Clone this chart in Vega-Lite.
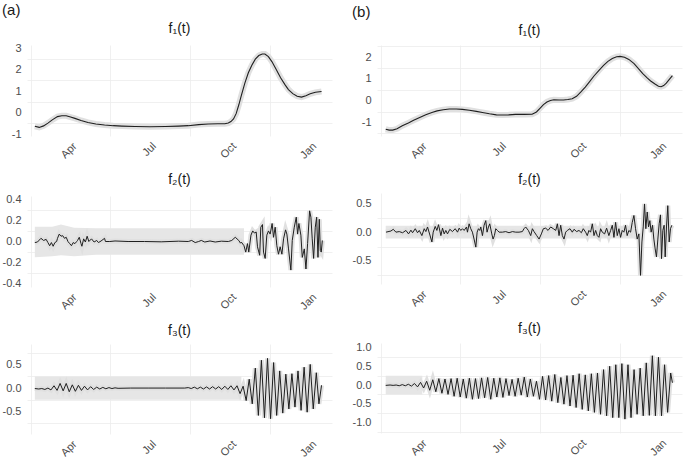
{
"$schema": "https://vega.github.io/schema/vega-lite/v6.json",
"background": "white",
"padding": {"left": 2, "top": 3, "right": 0, "bottom": 0},
"config": {
  "font": "Liberation Sans",
  "view": {"stroke": null},
  "axis": {"domain": false, "ticks": false, "labelColor": "#4d4d4d", "labelFontSize": 11, "gridColor": "#e2e2e2", "gridWidth": 1, "title": null},
  "title": {"fontSize": 14, "fontWeight": "normal", "color": "#1a1a1a", "offset": 6}
},
"datasets": {
  "a1": [{"t":50,"y":-0.64},{"t":55,"y":-0.69},{"t":60,"y":-0.62},{"t":65,"y":-0.49},{"t":70,"y":-0.34},{"t":76,"y":-0.19},{"t":81,"y":-0.15},{"t":86,"y":-0.15},{"t":91,"y":-0.21},{"t":96,"y":-0.27},{"t":103,"y":-0.37},{"t":111,"y":-0.46},{"t":120,"y":-0.53},{"t":130,"y":-0.58},{"t":140,"y":-0.61},{"t":150,"y":-0.63},{"t":165,"y":-0.65},{"t":182,"y":-0.66},{"t":200,"y":-0.65},{"t":215,"y":-0.63},{"t":226,"y":-0.61},{"t":238,"y":-0.56},{"t":249,"y":-0.53},{"t":260,"y":-0.52},{"t":268,"y":-0.52},{"t":272,"y":-0.49},{"t":275,"y":-0.42},{"t":278,"y":-0.3},{"t":281,"y":-0.05},{"t":284,"y":0.35},{"t":287,"y":0.8},{"t":291,"y":1.37},{"t":295,"y":1.85},{"t":299,"y":2.2},{"t":303,"y":2.48},{"t":307,"y":2.65},{"t":311,"y":2.72},{"t":314,"y":2.72},{"t":318,"y":2.6},{"t":322,"y":2.37},{"t":327,"y":2.0},{"t":332,"y":1.62},{"t":337,"y":1.3},{"t":341,"y":1.07},{"t":346,"y":0.88},{"t":351,"y":0.76},{"t":356,"y":0.72},{"t":361,"y":0.78},{"t":366,"y":0.87},{"t":372,"y":0.94},{"t":379,"y":0.98}],
  "b1": [{"t":51,"y":-1.31},{"t":55,"y":-1.35},{"t":59,"y":-1.35},{"t":64,"y":-1.29},{"t":70,"y":-1.15},{"t":77,"y":-1.02},{"t":83,"y":-0.9},{"t":90,"y":-0.77},{"t":97,"y":-0.65},{"t":104,"y":-0.54},{"t":110,"y":-0.47},{"t":117,"y":-0.42},{"t":124,"y":-0.38},{"t":132,"y":-0.38},{"t":139,"y":-0.4},{"t":147,"y":-0.44},{"t":155,"y":-0.49},{"t":162,"y":-0.54},{"t":170,"y":-0.6},{"t":178,"y":-0.65},{"t":185,"y":-0.66},{"t":192,"y":-0.65},{"t":200,"y":-0.63},{"t":210,"y":-0.63},{"t":219,"y":-0.62},{"t":224,"y":-0.52},{"t":228,"y":-0.35},{"t":232,"y":-0.18},{"t":236,"y":-0.06},{"t":240,"y":0.01},{"t":244,"y":0.04},{"t":250,"y":0.03},{"t":255,"y":0.03},{"t":260,"y":0.05},{"t":265,"y":0.09},{"t":270,"y":0.2},{"t":275,"y":0.4},{"t":280,"y":0.62},{"t":285,"y":0.87},{"t":290,"y":1.13},{"t":296,"y":1.4},{"t":301,"y":1.62},{"t":306,"y":1.8},{"t":311,"y":1.93},{"t":316,"y":2.01},{"t":320,"y":2.03},{"t":325,"y":1.99},{"t":330,"y":1.89},{"t":336,"y":1.7},{"t":341,"y":1.47},{"t":346,"y":1.24},{"t":351,"y":1.04},{"t":355,"y":0.9},{"t":360,"y":0.76},{"t":364,"y":0.66},{"t":367,"y":0.64},{"t":370,"y":0.69},{"t":373,"y":0.8},{"t":376,"y":0.95},{"t":380,"y":1.15}],
  "a2": [{"t":50,"y":-0.01},{"t":53,"y":-0.005},{"t":57,"y":0.03},{"t":60,"y":0.01},{"t":63,"y":0.02},{"t":65,"y":-0.01},{"t":67,"y":-0.04},{"t":69,"y":-0.01},{"t":71,"y":-0.045},{"t":73,"y":-0.01},{"t":75,"y":0.0},{"t":76,"y":0.03},{"t":78,"y":0.07},{"t":80,"y":0.05},{"t":82,"y":0.055},{"t":84,"y":0.03},{"t":86,"y":0.04},{"t":88,"y":0.0},{"t":90,"y":-0.02},{"t":92,"y":-0.04},{"t":94,"y":-0.01},{"t":96,"y":-0.02},{"t":98,"y":0.0},{"t":99,"y":0.01},{"t":101,"y":0.04},{"t":103,"y":-0.02},{"t":104,"y":-0.045},{"t":106,"y":0.025},{"t":108,"y":-0.005},{"t":110,"y":0.05},{"t":112,"y":0.0},{"t":115,"y":0.025},{"t":118,"y":-0.005},{"t":121,"y":0.01},{"t":123,"y":-0.01},{"t":126,"y":0.005},{"t":130,"y":0.03},{"t":131,"y":0.0},{"t":136,"y":0.0},{"t":142,"y":0.005},{"t":157,"y":0.0},{"t":176,"y":0.0},{"t":195,"y":-0.003},{"t":215,"y":0.003},{"t":226,"y":0.0},{"t":230,"y":0.01},{"t":234,"y":-0.01},{"t":238,"y":0.0},{"t":241,"y":0.01},{"t":245,"y":-0.005},{"t":251,"y":0.005},{"t":257,"y":-0.005},{"t":264,"y":0.003},{"t":272,"y":0.0},{"t":276,"y":0.01},{"t":280,"y":0.04},{"t":282,"y":0.025},{"t":284,"y":0.01},{"t":286,"y":-0.016},{"t":287,"y":-0.006},{"t":290,"y":-0.04},{"t":292,"y":-0.1},{"t":294,"y":-0.02},{"t":295.5,"y":-0.1},{"t":298,"y":0.06},{"t":300,"y":0.1},{"t":302,"y":0.08},{"t":304,"y":0.09},{"t":305.5,"y":-0.05},{"t":308,"y":-0.13},{"t":309.3,"y":0.135},{"t":311.2,"y":0.16},{"t":312.4,"y":-0.1},{"t":314.3,"y":-0.16},{"t":316.2,"y":0.06},{"t":318.1,"y":0.1},{"t":320,"y":0.07},{"t":322.3,"y":0.17},{"t":323.9,"y":0.04},{"t":325.8,"y":0.135},{"t":327.7,"y":-0.04},{"t":329.6,"y":-0.12},{"t":331.5,"y":-0.05},{"t":333.5,"y":-0.12},{"t":335.4,"y":0.025},{"t":337.7,"y":0.11},{"t":339.2,"y":0.07},{"t":341.1,"y":-0.07},{"t":343.8,"y":-0.27},{"t":345.4,"y":0.01},{"t":347.7,"y":0.135},{"t":350,"y":0.23},{"t":351.5,"y":0.07},{"t":353,"y":0.17},{"t":355.3,"y":0.06},{"t":356.9,"y":-0.15},{"t":359.2,"y":-0.07},{"t":361.1,"y":-0.26},{"t":363,"y":-0.02},{"t":365.3,"y":0.29},{"t":366.8,"y":0.23},{"t":368.3,"y":0.025},{"t":369.9,"y":-0.16},{"t":371.8,"y":0.135},{"t":373.4,"y":0.23},{"t":374.9,"y":-0.15},{"t":376.4,"y":0.21},{"t":377.6,"y":-0.085},{"t":378.7,"y":-0.1},{"t":379.9,"y":0.01}],
  "b2": [{"t":51.3,"y":0.0},{"t":57,"y":0.02},{"t":59.7,"y":0.05},{"t":62.7,"y":0.0},{"t":66.5,"y":0.01},{"t":70.4,"y":-0.01},{"t":74.2,"y":0.03},{"t":77.2,"y":-0.03},{"t":79.9,"y":0.035},{"t":81.8,"y":-0.01},{"t":84.9,"y":0.06},{"t":87.5,"y":-0.01},{"t":89.5,"y":0.03},{"t":92.5,"y":-0.06},{"t":95.2,"y":0.06},{"t":97.1,"y":0.01},{"t":99,"y":0.09},{"t":101.7,"y":-0.05},{"t":104,"y":-0.17},{"t":105.5,"y":0.0},{"t":107.8,"y":0.1},{"t":109.7,"y":0.03},{"t":111.6,"y":0.13},{"t":114.3,"y":-0.06},{"t":116.2,"y":0.07},{"t":118.1,"y":-0.03},{"t":120,"y":0.03},{"t":121.9,"y":-0.03},{"t":124.6,"y":0.05},{"t":127.6,"y":0.01},{"t":130.7,"y":0.06},{"t":133.4,"y":0.0},{"t":135.3,"y":0.07},{"t":137.2,"y":0.03},{"t":139.1,"y":0.06},{"t":141,"y":0.03},{"t":143.7,"y":0.09},{"t":144.8,"y":0.0},{"t":146.7,"y":0.145},{"t":148.6,"y":0.06},{"t":150.5,"y":0.0},{"t":152.4,"y":-0.12},{"t":154.4,"y":-0.26},{"t":155.9,"y":0.0},{"t":157.4,"y":0.06},{"t":158.9,"y":0.03},{"t":160.1,"y":0.09},{"t":162,"y":-0.06},{"t":163.9,"y":0.12},{"t":165.8,"y":0.2},{"t":167.3,"y":0.0},{"t":168.9,"y":0.09},{"t":170.4,"y":0.145},{"t":172.7,"y":-0.03},{"t":174.2,"y":-0.12},{"t":175.7,"y":-0.06},{"t":177.3,"y":0.06},{"t":179.2,"y":0.03},{"t":181.1,"y":0.0},{"t":184.9,"y":0.0},{"t":188.7,"y":0.01},{"t":192.5,"y":-0.01},{"t":196.4,"y":0.01},{"t":200.2,"y":0.0},{"t":204,"y":0.0},{"t":207.8,"y":0.01},{"t":209.7,"y":0.06},{"t":211.6,"y":0.09},{"t":214.7,"y":0.03},{"t":217.4,"y":-0.06},{"t":219.3,"y":0.06},{"t":221.2,"y":0.01},{"t":224.3,"y":-0.06},{"t":227,"y":-0.12},{"t":229.6,"y":-0.03},{"t":231.9,"y":0.06},{"t":234.6,"y":0.07},{"t":237.3,"y":0.03},{"t":240.3,"y":0.09},{"t":243.4,"y":0.06},{"t":246.1,"y":0.03},{"t":248,"y":0.145},{"t":249.9,"y":-0.06},{"t":251.8,"y":0.12},{"t":253.7,"y":-0.06},{"t":255.6,"y":-0.12},{"t":257.5,"y":0.0},{"t":259.4,"y":0.03},{"t":262.5,"y":0.06},{"t":265.1,"y":0.0},{"t":267.1,"y":0.05},{"t":270.1,"y":0.01},{"t":272.8,"y":0.03},{"t":275.5,"y":-0.01},{"t":277.7,"y":0.06},{"t":280.4,"y":0.0},{"t":282.3,"y":-0.06},{"t":284.2,"y":0.03},{"t":286.1,"y":0.0},{"t":288.1,"y":0.145},{"t":290,"y":-0.06},{"t":291.9,"y":0.03},{"t":293.8,"y":-0.06},{"t":295.7,"y":-0.09},{"t":297.6,"y":0.06},{"t":299.5,"y":0.0},{"t":302.2,"y":-0.03},{"t":304.5,"y":0.07},{"t":307.1,"y":-0.06},{"t":309.1,"y":0.03},{"t":311,"y":0.12},{"t":312.9,"y":-0.09},{"t":314.8,"y":0.17},{"t":316.7,"y":-0.06},{"t":318.6,"y":0.06},{"t":320.5,"y":-0.09},{"t":322.4,"y":0.03},{"t":324.3,"y":0.0},{"t":326.2,"y":0.12},{"t":328.1,"y":-0.06},{"t":330,"y":0.03},{"t":332,"y":0.0},{"t":333.9,"y":0.17},{"t":335.8,"y":0.29},{"t":337.7,"y":0.06},{"t":339.6,"y":-0.12},{"t":341.5,"y":-0.03},{"t":343.4,"y":-0.75},{"t":345,"y":-0.17},{"t":346.5,"y":0.09},{"t":348,"y":0.49},{"t":349.5,"y":0.06},{"t":351.1,"y":0.35},{"t":352.6,"y":0.09},{"t":354.1,"y":0.2},{"t":355.6,"y":0.0},{"t":357.2,"y":0.12},{"t":358.7,"y":-0.12},{"t":360.2,"y":-0.29},{"t":361.7,"y":-0.43},{"t":363.3,"y":-0.12},{"t":364.8,"y":0.145},{"t":366.3,"y":0.3},{"t":367.5,"y":-0.46},{"t":369,"y":0.03},{"t":370.5,"y":0.12},{"t":371.7,"y":-0.43},{"t":373.2,"y":0.09},{"t":374.7,"y":0.46},{"t":376.3,"y":-0.17},{"t":377.8,"y":0.06},{"t":379.3,"y":0.12}],
  "a3": [{"t":50,"y":-0.01},{"t":54.5,"y":-0.02},{"t":58,"y":-0.01},{"t":61.5,"y":-0.03},{"t":65,"y":0.0},{"t":68.5,"y":-0.04},{"t":72,"y":0.05},{"t":75.5,"y":-0.05},{"t":79,"y":0.1},{"t":82.5,"y":-0.06},{"t":86,"y":0.1},{"t":89.5,"y":-0.08},{"t":93,"y":0.07},{"t":96.5,"y":-0.07},{"t":100,"y":0.06},{"t":103.5,"y":-0.05},{"t":107,"y":0.04},{"t":110.5,"y":-0.04},{"t":114,"y":0.03},{"t":117.5,"y":-0.03},{"t":121,"y":0.02},{"t":124.5,"y":-0.02},{"t":128,"y":0.015},{"t":131.5,"y":-0.015},{"t":135,"y":0.01},{"t":138.5,"y":-0.01},{"t":142,"y":0.005},{"t":145.5,"y":-0.005},{"t":160,"y":0.0},{"t":180,"y":0.0},{"t":200,"y":0.0},{"t":222,"y":0.0},{"t":226,"y":0.01},{"t":229.5,"y":-0.01},{"t":233,"y":0.02},{"t":236.5,"y":-0.015},{"t":240,"y":0.02},{"t":243.5,"y":-0.02},{"t":247,"y":0.025},{"t":250.5,"y":-0.02},{"t":254,"y":0.03},{"t":257.5,"y":-0.02},{"t":261,"y":0.03},{"t":264.5,"y":-0.03},{"t":268,"y":0.04},{"t":271.5,"y":-0.03},{"t":275,"y":0.05},{"t":278.5,"y":-0.04},{"t":282,"y":0.05},{"t":285.5,"y":-0.12},{"t":289,"y":0.04},{"t":292.5,"y":-0.27},{"t":296,"y":0.19},{"t":299.5,"y":-0.34},{"t":303,"y":0.43},{"t":306.5,"y":-0.59},{"t":310,"y":0.6},{"t":313.5,"y":-0.64},{"t":317,"y":0.64},{"t":320.5,"y":-0.66},{"t":324,"y":0.55},{"t":327.5,"y":-0.59},{"t":331,"y":0.37},{"t":334.5,"y":-0.54},{"t":338,"y":0.3},{"t":341.5,"y":-0.45},{"t":345,"y":0.31},{"t":348.5,"y":-0.41},{"t":352,"y":0.37},{"t":355.5,"y":-0.48},{"t":359,"y":0.45},{"t":362.5,"y":-0.52},{"t":366,"y":0.51},{"t":369.5,"y":-0.45},{"t":373,"y":0.33},{"t":376,"y":-0.34},{"t":379,"y":0.06}],
  "b3": [{"t":51,"y":-0.01},{"t":56,"y":0.0},{"t":59.5,"y":-0.01},{"t":63,"y":0.0},{"t":66.5,"y":-0.02},{"t":70,"y":0.01},{"t":73.5,"y":-0.02},{"t":77,"y":0.02},{"t":80.5,"y":-0.03},{"t":84,"y":0.04},{"t":87.5,"y":-0.05},{"t":91,"y":0.07},{"t":94.5,"y":-0.08},{"t":98,"y":0.1},{"t":101.5,"y":-0.14},{"t":105,"y":0.14},{"t":108.5,"y":-0.18},{"t":112,"y":0.17},{"t":115.5,"y":-0.22},{"t":119,"y":0.16},{"t":122.5,"y":-0.25},{"t":126,"y":0.17},{"t":129.5,"y":-0.3},{"t":133,"y":0.18},{"t":136.5,"y":-0.32},{"t":140,"y":0.16},{"t":143.5,"y":-0.35},{"t":147,"y":0.18},{"t":150.5,"y":-0.38},{"t":154,"y":0.17},{"t":157.5,"y":-0.36},{"t":161,"y":0.19},{"t":164.5,"y":-0.34},{"t":168,"y":0.2},{"t":171.5,"y":-0.38},{"t":175,"y":0.18},{"t":178.5,"y":-0.32},{"t":182,"y":0.19},{"t":185.5,"y":-0.33},{"t":189,"y":0.17},{"t":192.5,"y":-0.28},{"t":196,"y":0.15},{"t":199.5,"y":-0.3},{"t":203,"y":0.18},{"t":206.5,"y":-0.27},{"t":210,"y":0.21},{"t":213.5,"y":-0.32},{"t":217,"y":0.16},{"t":220.5,"y":-0.3},{"t":224,"y":0.1},{"t":227.5,"y":-0.38},{"t":231,"y":0.23},{"t":234.5,"y":-0.4},{"t":238,"y":0.25},{"t":241.5,"y":-0.43},{"t":245,"y":0.28},{"t":248.5,"y":-0.47},{"t":252,"y":0.2},{"t":255.5,"y":-0.51},{"t":259,"y":0.25},{"t":262.5,"y":-0.56},{"t":266,"y":0.26},{"t":269.5,"y":-0.6},{"t":273,"y":0.3},{"t":276.5,"y":-0.65},{"t":280,"y":0.27},{"t":283.5,"y":-0.69},{"t":287,"y":0.3},{"t":290.5,"y":-0.73},{"t":294,"y":0.32},{"t":297.5,"y":-0.78},{"t":301,"y":0.41},{"t":304.5,"y":-0.82},{"t":308,"y":0.5},{"t":311.5,"y":-0.87},{"t":315,"y":0.54},{"t":318.5,"y":-0.87},{"t":322,"y":0.57},{"t":325.5,"y":-0.91},{"t":329,"y":0.54},{"t":332.5,"y":-0.87},{"t":336,"y":0.41},{"t":339.5,"y":-0.78},{"t":343,"y":0.45},{"t":346.5,"y":-0.82},{"t":350,"y":0.59},{"t":353.5,"y":-0.81},{"t":357,"y":0.78},{"t":360.5,"y":-0.82},{"t":364,"y":0.74},{"t":367.5,"y":-0.82},{"t":371,"y":0.54},{"t":374.5,"y":-0.73},{"t":378,"y":0.32},{"t":380,"y":0.06}],
  "a2band": [{"t":50,"lo":-0.15,"hi":0.14},{"t":70,"lo":-0.14,"hi":0.14},{"t":80,"lo":-0.13,"hi":0.16},{"t":95,"lo":-0.14,"hi":0.13},{"t":120,"lo":-0.125,"hi":0.125},{"t":290,"lo":-0.125,"hi":0.125}],
  "b2band": [{"t":51,"lo":-0.11,"hi":0.11},{"t":338,"lo":-0.11,"hi":0.11}],
  "a3band": [{"t":50,"lo":-0.25,"hi":0.25},{"t":287,"lo":-0.25,"hi":0.25}],
  "b3band": [{"t":51,"lo":-0.25,"hi":0.25},{"t":93,"lo":-0.25,"hi":0.25}]
},
"spacing": 18,
"hconcat": [
 {
  "title": {"text": "(a)", "anchor": "start", "fontSize": 15, "color": "#1a1a1a", "offset": 4},
  "spacing": 12,
  "vconcat": [
   {
    "width": 305, "height": 91,
    "title": "f₁(t)",
    "layer": [
     {"data": {"name": "a1"}, "mark": {"type": "line", "color": "#e0e0e0", "strokeWidth": 6},
      "encoding": {
        "x": {"field": "t", "type": "quantitative", "scale": {"domain": [41, 391], "nice": false, "zero": false}, "axis": {"orient": "bottom", "values": [45.5, 136.5, 228, 320], "labels": false, "gridColor": "#ececec", "gridWidth": 0.8}},
        "y": {"field": "y", "type": "quantitative", "scale": {"domain": [-1.09, 3.14], "nice": false, "zero": false}, "axis": {"orient": "left", "values": [-0.5, 0.5, 1.5, 2.5], "labels": false, "gridColor": "#ececec", "gridWidth": 0.8}}}},
     {"data": {"name": "a1"}, "mark": {"type": "line", "color": "#1f1f1f", "strokeWidth": 1.1},
      "encoding": {
        "x": {"field": "t", "type": "quantitative", "axis": {"orient": "bottom", "values": [91, 182, 274, 366], "labelExpr": "datum.value < 100 ? 'Apr' : datum.value < 200 ? 'Jul' : datum.value < 300 ? 'Oct' : 'Jan'", "labelAngle": -45, "labelAlign": "right", "labelBaseline": "top", "labelPadding": 4, "labelFontSize": 11}},
        "y": {"field": "y", "type": "quantitative", "axis": {"orient": "left", "values": [-1, 0, 1, 2, 3], "format": "d", "labelExpr": "replace(datum.label, '−', '-')", "labelPadding": 6}}}}
    ],
    "resolve": {"axis": {"x": "independent", "y": "independent"}}
   },
   {
    "width": 305, "height": 91,
    "title": "f₂(t)",
    "layer": [
     {"data": {"name": "a2band"}, "mark": {"type": "area", "color": "#e6e6e6"},
      "encoding": {
        "x": {"field": "t", "type": "quantitative", "scale": {"domain": [41, 391], "nice": false, "zero": false}, "axis": {"orient": "bottom", "values": [45.5, 136.5, 228, 320], "labels": false, "gridColor": "#ececec", "gridWidth": 0.8}},
        "y": {"field": "lo", "type": "quantitative", "scale": {"domain": [-0.43, 0.43], "nice": false, "zero": false}, "axis": {"orient": "left", "values": [-0.3, -0.1, 0.1, 0.3], "labels": false, "gridColor": "#ececec", "gridWidth": 0.8}},
        "y2": {"field": "hi"}}},
     {"data": {"name": "a2"}, "mark": {"type": "line", "color": "#e0e0e0", "strokeWidth": 5},
      "encoding": {"x": {"field": "t", "type": "quantitative", "axis": null}, "y": {"field": "y", "type": "quantitative", "axis": null}}},
     {"data": {"name": "a2"}, "mark": {"type": "line", "color": "#1f1f1f", "strokeWidth": 1},
      "encoding": {
        "x": {"field": "t", "type": "quantitative", "axis": {"orient": "bottom", "values": [91, 182, 274, 366], "labelExpr": "datum.value < 100 ? 'Apr' : datum.value < 200 ? 'Jul' : datum.value < 300 ? 'Oct' : 'Jan'", "labelAngle": -45, "labelAlign": "right", "labelBaseline": "top", "labelPadding": 4, "labelFontSize": 11}},
        "y": {"field": "y", "type": "quantitative", "axis": {"orient": "left", "values": [-0.4, -0.2, 0, 0.2, 0.4], "format": ".1f", "labelExpr": "replace(datum.label, '−', '-')", "labelPadding": 6}}}}
    ],
    "resolve": {"axis": {"x": "independent", "y": "independent"}}
   },
   {
    "width": 305, "height": 90,
    "title": "f₃(t)",
    "layer": [
     {"data": {"name": "a3band"}, "mark": {"type": "area", "color": "#e6e6e6"},
      "encoding": {
        "x": {"field": "t", "type": "quantitative", "scale": {"domain": [41, 391], "nice": false, "zero": false}, "axis": {"orient": "bottom", "values": [45.5, 136.5, 228, 320], "labels": false, "gridColor": "#ececec", "gridWidth": 0.8}},
        "y": {"field": "lo", "type": "quantitative", "scale": {"domain": [-0.99, 0.95], "nice": false, "zero": false}, "axis": {"orient": "left", "values": [-0.75, -0.25, 0.25, 0.75], "labels": false, "gridColor": "#ececec", "gridWidth": 0.8}},
        "y2": {"field": "hi"}}},
     {"data": {"name": "a3"}, "mark": {"type": "line", "color": "#e0e0e0", "strokeWidth": 5},
      "encoding": {"x": {"field": "t", "type": "quantitative", "axis": null}, "y": {"field": "y", "type": "quantitative", "axis": null}}},
     {"data": {"name": "a3"}, "mark": {"type": "line", "color": "#1f1f1f", "strokeWidth": 1},
      "encoding": {
        "x": {"field": "t", "type": "quantitative", "axis": {"orient": "bottom", "values": [91, 182, 274, 366], "labelExpr": "datum.value < 100 ? 'Apr' : datum.value < 200 ? 'Jul' : datum.value < 300 ? 'Oct' : 'Jan'", "labelAngle": -45, "labelAlign": "right", "labelBaseline": "top", "labelPadding": 4, "labelFontSize": 11}},
        "y": {"field": "y", "type": "quantitative", "axis": {"orient": "left", "values": [-0.5, 0, 0.5], "format": ".1f", "labelExpr": "replace(datum.label, '−', '-')", "labelPadding": 6}}}}
    ],
    "resolve": {"axis": {"x": "independent", "y": "independent"}}
   }
  ]
 },
 {
  "title": {"text": "(b)", "anchor": "start", "fontSize": 15, "color": "#1a1a1a", "offset": 4},
  "spacing": 12,
  "vconcat": [
   {
    "width": 305, "height": 91,
    "title": "f₁(t)",
    "layer": [
     {"data": {"name": "b1"}, "mark": {"type": "line", "color": "#e0e0e0", "strokeWidth": 6},
      "encoding": {
        "x": {"field": "t", "type": "quantitative", "scale": {"domain": [41, 391], "nice": false, "zero": false}, "axis": {"orient": "bottom", "values": [45.5, 136.5, 228, 320], "labels": false, "gridColor": "#ececec", "gridWidth": 0.8}},
        "y": {"field": "y", "type": "quantitative", "scale": {"domain": [-1.62, 2.55], "nice": false, "zero": false}, "axis": {"orient": "left", "values": [-1.5, -0.5, 0.5, 1.5, 2.5], "labels": false, "gridColor": "#ececec", "gridWidth": 0.8}}}},
     {"data": {"name": "b1"}, "mark": {"type": "line", "color": "#1f1f1f", "strokeWidth": 1.1},
      "encoding": {
        "x": {"field": "t", "type": "quantitative", "axis": {"orient": "bottom", "values": [91, 182, 274, 366], "labelExpr": "datum.value < 100 ? 'Apr' : datum.value < 200 ? 'Jul' : datum.value < 300 ? 'Oct' : 'Jan'", "labelAngle": -45, "labelAlign": "right", "labelBaseline": "top", "labelPadding": 4, "labelFontSize": 11}},
        "y": {"field": "y", "type": "quantitative", "axis": {"orient": "left", "values": [-1, 0, 1, 2], "format": "d", "labelExpr": "replace(datum.label, '−', '-')", "labelPadding": 6}}}}
    ],
    "resolve": {"axis": {"x": "independent", "y": "independent"}}
   },
   {
    "width": 305, "height": 91,
    "title": "f₂(t)",
    "layer": [
     {"data": {"name": "b2band"}, "mark": {"type": "area", "color": "#e6e6e6"},
      "encoding": {
        "x": {"field": "t", "type": "quantitative", "scale": {"domain": [41, 391], "nice": false, "zero": false}, "axis": {"orient": "bottom", "values": [45.5, 136.5, 228, 320], "labels": false, "gridColor": "#ececec", "gridWidth": 0.8}},
        "y": {"field": "lo", "type": "quantitative", "scale": {"domain": [-0.9, 0.68], "nice": false, "zero": false}, "axis": {"orient": "left", "values": [-0.75, -0.25, 0.25], "labels": false, "gridColor": "#ececec", "gridWidth": 0.8}},
        "y2": {"field": "hi"}}},
     {"data": {"name": "b2"}, "mark": {"type": "line", "color": "#e0e0e0", "strokeWidth": 5},
      "encoding": {"x": {"field": "t", "type": "quantitative", "axis": null}, "y": {"field": "y", "type": "quantitative", "axis": null}}},
     {"data": {"name": "b2"}, "mark": {"type": "line", "color": "#1f1f1f", "strokeWidth": 1},
      "encoding": {
        "x": {"field": "t", "type": "quantitative", "axis": {"orient": "bottom", "values": [91, 182, 274, 366], "labelExpr": "datum.value < 100 ? 'Apr' : datum.value < 200 ? 'Jul' : datum.value < 300 ? 'Oct' : 'Jan'", "labelAngle": -45, "labelAlign": "right", "labelBaseline": "top", "labelPadding": 4, "labelFontSize": 11}},
        "y": {"field": "y", "type": "quantitative", "axis": {"orient": "left", "values": [-0.5, 0, 0.5], "format": ".1f", "labelExpr": "replace(datum.label, '−', '-')", "labelPadding": 6}}}}
    ],
    "resolve": {"axis": {"x": "independent", "y": "independent"}}
   },
   {
    "width": 305, "height": 90,
    "title": "f₃(t)",
    "layer": [
     {"data": {"name": "b3band"}, "mark": {"type": "area", "color": "#e6e6e6"},
      "encoding": {
        "x": {"field": "t", "type": "quantitative", "scale": {"domain": [41, 391], "nice": false, "zero": false}, "axis": {"orient": "bottom", "values": [45.5, 136.5, 228, 320], "labels": false, "gridColor": "#ececec", "gridWidth": 0.8}},
        "y": {"field": "lo", "type": "quantitative", "scale": {"domain": [-1.28, 1.12], "nice": false, "zero": false}, "axis": {"orient": "left", "values": [-1.25, -0.75, -0.25, 0.25, 0.75], "labels": false, "gridColor": "#ececec", "gridWidth": 0.8}},
        "y2": {"field": "hi"}}},
     {"data": {"name": "b3"}, "mark": {"type": "line", "color": "#e0e0e0", "strokeWidth": 5},
      "encoding": {"x": {"field": "t", "type": "quantitative", "axis": null}, "y": {"field": "y", "type": "quantitative", "axis": null}}},
     {"data": {"name": "b3"}, "mark": {"type": "line", "color": "#1f1f1f", "strokeWidth": 1},
      "encoding": {
        "x": {"field": "t", "type": "quantitative", "axis": {"orient": "bottom", "values": [91, 182, 274, 366], "labelExpr": "datum.value < 100 ? 'Apr' : datum.value < 200 ? 'Jul' : datum.value < 300 ? 'Oct' : 'Jan'", "labelAngle": -45, "labelAlign": "right", "labelBaseline": "top", "labelPadding": 4, "labelFontSize": 11}},
        "y": {"field": "y", "type": "quantitative", "axis": {"orient": "left", "values": [-1, -0.5, 0, 0.5, 1], "format": ".1f", "labelExpr": "replace(datum.label, '−', '-')", "labelPadding": 6}}}}
    ],
    "resolve": {"axis": {"x": "independent", "y": "independent"}}
   }
  ]
 }
]
}
